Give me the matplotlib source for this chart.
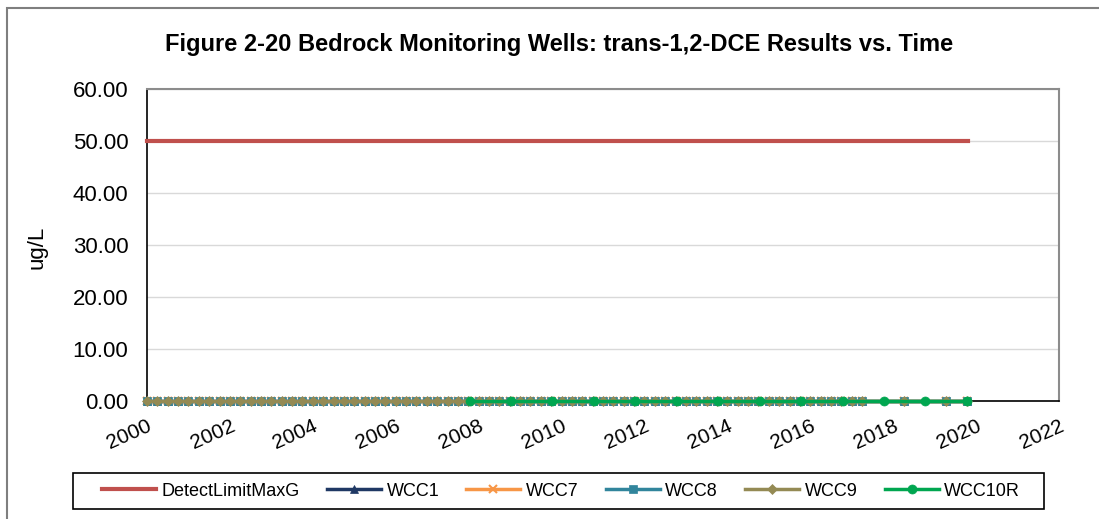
import matplotlib
matplotlib.use("Agg")
import matplotlib.pyplot as plt
from matplotlib.patches import Rectangle
from matplotlib.lines import Line2D

plt.rcParams['font.family'] = ['Liberation Sans', 'DejaVu Sans']

# ---------------- data ----------------
title = "Figure 2-20 Bedrock Monitoring Wells: trans-1,2-DCE Results vs. Time"
y_label = "ug/L"
x_ticks = [2000, 2002, 2004, 2006, 2008, 2010, 2012, 2014, 2016, 2018, 2020, 2022]
y_ticks = [0, 10, 20, 30, 40, 50, 60]

detect_dates = [2000.0, 2019.8]
detect_vals = [50.0, 50.0]

well_dates = [
    2000.00, 2000.25, 2000.50, 2000.75, 2001.00, 2001.25, 2001.50, 2001.75,
    2002.00, 2002.25, 2002.50, 2002.75, 2003.00, 2003.25, 2003.50, 2003.75,
    2004.00, 2004.25, 2004.50, 2004.75, 2005.00, 2005.25, 2005.50, 2005.75,
    2006.00, 2006.25, 2006.50, 2006.75, 2007.00, 2007.25, 2007.50, 2007.75,
    2008.00, 2008.25, 2008.50, 2008.75, 2009.00, 2009.25, 2009.50, 2009.75,
    2010.00, 2010.25, 2010.50, 2010.75, 2011.00, 2011.25, 2011.50, 2011.75,
    2012.00, 2012.25, 2012.50, 2012.75, 2013.00, 2013.25, 2013.50, 2013.75,
    2014.00, 2014.25, 2014.50, 2014.75, 2015.00, 2015.25, 2015.50, 2015.75,
    2016.00, 2016.25, 2016.50, 2016.75, 2017.00, 2017.25,
    2018.26, 2019.27, 2019.78,
]
wcc1_vals = [0.0] * len(well_dates)
wcc7_vals = [0.0] * len(well_dates)
wcc8_vals = [0.0] * len(well_dates)
wcc9_vals = [0.0] * len(well_dates)

wcc10r_dates = [2007.78, 2008.78, 2009.78, 2010.78, 2011.78, 2012.78, 2013.78,
                2014.78, 2015.78, 2016.78, 2017.78, 2018.77, 2019.78]
wcc10r_vals = [0.0] * len(wcc10r_dates)

labels = ["DetectLimitMaxG", "WCC1", "WCC7", "WCC8", "WCC9", "WCC10R"]
colors = ["#C0504D", "#1F3864", "#F79646", "#31859C", "#948A54", "#00A650"]
markers = [None, "^", "x", "s", "D", "o"]
msizes = [0, 6, 6, 5.5, 5, 6.5]

# ---------------- figure ----------------
W, H = 1099, 519
fig = plt.figure(figsize=(W / 100, H / 100), dpi=100)

def fx(px):
    return px / W

def fy(py):
    return 1 - py / H

# outer chart border
fig.patches.append(Rectangle((fx(7), fy(1000)), fx(2000), fy(8) - fy(1000),
                             transform=fig.transFigure, fill=False,
                             edgecolor="#7F7F7F", linewidth=1.5))

ax = fig.add_axes([fx(147), fy(401), fx(1059) - fx(147), fy(89) - fy(401)])

series = [
    (detect_dates, detect_vals),
    (well_dates, wcc1_vals),
    (well_dates, wcc7_vals),
    (well_dates, wcc8_vals),
    (well_dates, wcc9_vals),
    (wcc10r_dates, wcc10r_vals),
]
for i, (xs, ys) in enumerate(series):
    lw = 3 if i == 0 else 2.5
    mk = markers[i]
    ax.plot(xs, ys, color=colors[i], linewidth=lw, marker=mk,
            markersize=msizes[i], markeredgewidth=1.5 if mk == "x" else 0.5,
            markeredgecolor=colors[i], clip_on=False, zorder=3 + i)

ax.set_xlim(2000, 2022)
ax.set_ylim(0, 60)
ax.set_xticks(x_ticks)
ax.set_yticks(y_ticks)
ax.set_yticklabels([f"{v:.2f}" for v in y_ticks], fontsize=16)
ax.set_xticklabels([str(v) for v in x_ticks], fontsize=15, rotation=24,
                   ha="right", va="top", rotation_mode="anchor")
ax.tick_params(axis="y", length=0, pad=13.5)
ax.tick_params(axis="x", length=0, pad=11)
ax.grid(axis="y", color="#D9D9D9", linewidth=1)
ax.set_axisbelow(True)
for s in ["top", "right"]:
    ax.spines[s].set_color("#8C8C8C")
    ax.spines[s].set_linewidth(1.5)
for s in ["left", "bottom"]:
    ax.spines[s].set_color("#000000")
    ax.spines[s].set_linewidth(1.2)

fig.text(fx(559), fy(45), title, ha="center", va="center",
         fontsize=17, fontweight="bold")
fig.text(fx(37), fy(247), y_label, ha="center", va="center",
         rotation=90, fontsize=16)

# legend box
fig.patches.append(Rectangle((fx(73), fy(509)), fx(1044) - fx(73), fy(473) - fy(509),
                             transform=fig.transFigure, fill=False,
                             edgecolor="#000000", linewidth=1.2))
leg_handles = []
for i in range(len(labels)):
    leg_handles.append(Line2D([], [], color=colors[i], linewidth=3 if i == 0 else 2.5,
                              marker=markers[i], markersize=msizes[i],
                              markeredgewidth=1.5 if markers[i] == "x" else 0.5,
                              markeredgecolor=colors[i]))
fig.legend(leg_handles, labels, loc="center", bbox_to_anchor=(fx(561), fy(491)),
           ncol=6, frameon=False, fontsize=13, handlelength=3.0,
           handletextpad=0.3, columnspacing=1.5)

fig.savefig("out.png", dpi=100)
